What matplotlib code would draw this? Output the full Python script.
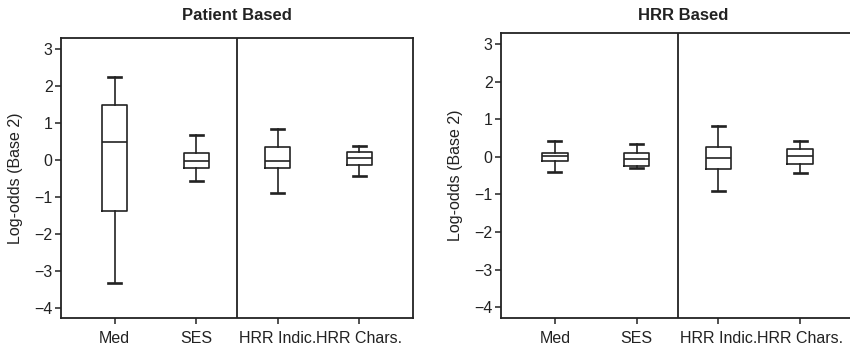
import matplotlib
matplotlib.use("Agg")
import matplotlib.pyplot as plt

plt.rcParams['font.family'] = ['Liberation Sans', 'DejaVu Sans']

categories = ["Med", "SES", "HRR Indic.", "HRR Chars."]

# (whislo, q1, median, q3, whishi)
patient_lo = [-3.32, -0.58, -0.90, -0.44]
patient_q1 = [-1.37, -0.23, -0.23, -0.13]
patient_med = [0.47, -0.04, -0.02, 0.05]
patient_q3 = [1.48, 0.18, 0.36, 0.22]
patient_hi = [2.23, 0.68, 0.82, 0.38]

hrr_lo = [-0.41, -0.29, -0.91, -0.44]
hrr_q1 = [-0.11, -0.25, -0.33, -0.19]
hrr_med = [0.02, -0.05, -0.02, 0.03]
hrr_q3 = [0.11, 0.11, 0.27, 0.20]
hrr_hi = [0.42, 0.34, 0.82, 0.43]

yticks = [-4, -3, -2, -1, 0, 1, 2, 3]
titles = ["Patient Based", "HRR Based"]

W, H = 850, 348
fig = plt.figure(figsize=(W / 100, H / 100), dpi=100)

def make_axes(x0, x1, ytop, ybot):
    return fig.add_axes([x0 / W, 1 - ybot / H, (x1 - x0) / W, (ybot - ytop) / H])

ax1 = make_axes(61, 413, 37.5, 318.3)
ax2 = make_axes(501, 854, 33, 318.3)

FS = 11.5
col = "#222222"

def draw(ax, lo, q1, med, q3, hi, title, ylim, title_x):
    stats = []
    for i in range(len(categories)):
        stats.append(dict(whislo=lo[i], q1=q1[i], med=med[i], q3=q3[i],
                          whishi=hi[i], fliers=[], label=categories[i]))
    lw = 1.2
    ax.bxp(stats, positions=range(1, len(categories) + 1), widths=0.31,
           capwidths=0.16, showfliers=False,
           boxprops=dict(color=col, linewidth=lw),
           whiskerprops=dict(color=col, linewidth=lw),
           capprops=dict(color=col, linewidth=lw * 1.6),
           medianprops=dict(color=col, linewidth=lw))
    ax.axvline(2.5, color=col, linewidth=1.3)
    ax.set_xlim(0.34, 4.66)
    ax.set_ylim(*ylim)
    ax.set_yticks(yticks)
    ax.set_yticklabels(["\u2212%d" % -t if t < 0 else str(t) for t in yticks])
    ax.set_xticks(range(1, len(categories) + 1))
    ax.set_xticklabels(categories)
    ax.tick_params(direction="out", length=4, width=1.1, colors=col,
                   labelsize=FS, labelcolor=col)
    ax.tick_params(axis="y", pad=2)
    ax.tick_params(axis="x", pad=5)
    for s in ax.spines.values():
        s.set_linewidth(1.3)
        s.set_color(col)
    ax.set_ylabel("Log-odds (Base 2)", fontsize=FS, color=col, labelpad=8)
    fig.text(title_x / W, 1 - 15 / H, title, fontsize=12, fontweight="bold",
             color=col, ha="center", va="center")

draw(ax1, patient_lo, patient_q1, patient_med, patient_q3, patient_hi, titles[0], (-4.27, 3.30), 237)
draw(ax2, hrr_lo, hrr_q1, hrr_med, hrr_q3, hrr_hi, titles[1], (-4.29, 3.29), 683)

fig.savefig("out.png", dpi=100)
